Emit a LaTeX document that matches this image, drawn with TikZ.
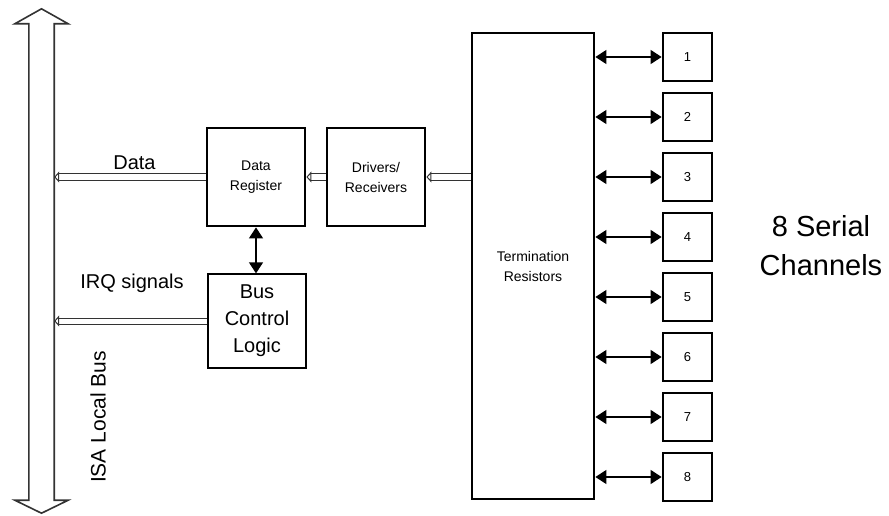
\documentclass[tikz,border=0pt]{standalone}
\usepackage{fontspec}
\setmainfont{Liberation Sans}
\usetikzlibrary{arrows.meta,calc}

\begin{document}
\begin{tikzpicture}[x=1pt, y=-1pt,
    blockbox/.style={draw, line width=2.8pt, minimum width=98pt, minimum height=98pt, inner sep=0pt, align=center, font=\fontsize{14}{20}\selectfont},
    chanbox/.style={draw, line width=2.8pt, minimum width=49pt, minimum height=48pt, inner sep=0pt, font=\fontsize{13}{15}\selectfont},
    widebus/.style={draw=black!80, line width=1pt, double, double distance=5pt, -{Triangle[open, length=5pt, width=11pt]}},
    biarrow/.style={line width=1.3pt, {Triangle[length=11pt, width=14pt]}-{Triangle[length=11pt, width=14pt]}},
    biglabel/.style={font=\fontsize{20}{27}\selectfont, align=center}]
        \useasboundingbox (0,0) rectangle (889,516);

        % ISA local bus
        \node[minimum width=25pt, minimum height=476pt, inner sep=0pt] (bus) at (41.5,262) {};
        \draw[draw=black!80, line width=1.6pt, line join=miter]
            (bus.south west) -- (bus.north west) -- ++(-14,0) -- ($(bus.north)+(0,-15)$)
            -- ($(bus.north east)+(14,0)$) -- (bus.north east) -- (bus.south east)
            -- ++(14,0) -- ($(bus.south)+(0,13)$) -- ($(bus.south west)+(-14,0)$) -- cycle;
        \node[biglabel, rotate=90, font=\fontsize{21}{27}\selectfont] (isa) at (98,417) {ISA Local Bus};

        % Nodes for the boxes
        \node[blockbox] (dreg) at (256,177) {Data\\Register};
        \node[blockbox] (drv) at (376,177) {Drivers/\\Receivers};
        \node[blockbox, line width=1.3pt, minimum height=94pt, font=\fontsize{20}{27}\selectfont] (bcl) at (257,321) {Bus\\Control\\Logic};
        \node[blockbox, minimum width=122pt, minimum height=466pt] (term) at (533,266) {Termination\\Resistors};

        % Data paths
        \draw[widebus] (dreg.west) -- (dreg.west -| bus.east) node[pos=0.47, above=3pt, biglabel] (datalbl) {Data};
        \draw[widebus] (bcl.west) -- (bcl.west -| bus.east);
        \node[biglabel] (irqlbl) at (132,283) {IRQ signals};
        \draw[widebus] (drv.west) -- (dreg.east);
        \draw[widebus] (drv.east -| term.west) -- (drv.east);
        \draw[biarrow] (dreg.south) -- (dreg.south |- bcl.north);

        % Serial channels
        \foreach \i in {1,...,8} {
            \node[chanbox] (ch\i) at (687.5,{57+60*(\i-1)}) {\i};
            \draw[biarrow] (ch\i.west -| term.east) -- (ch\i.west);
        }
        \node[biglabel, font=\fontsize{29}{39}\selectfont] (serial) at (821,246) {8 Serial\\Channels};
    \end{tikzpicture}
\end{document}
